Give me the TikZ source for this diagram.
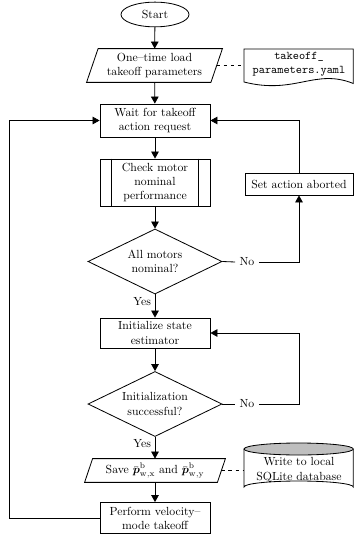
\documentclass[tikz,border=0pt]{standalone}
\usepackage{amsmath}
\usetikzlibrary{shapes.geometric,arrows.meta}

\begin{document}
\begin{tikzpicture}[x=0.85pt,y=-0.85pt,line width=0.7pt,
  arr/.style={-{Triangle[length=6pt,width=6.5pt]}},
  link/.style={dash pattern=on 3pt off 3pt},
  box/.style={draw,rectangle,minimum width=93.5pt,align=center,inner sep=1pt},
  plain/.style={rectangle,align=center,inner sep=1pt},
  decision/.style={draw,diamond,aspect=2,minimum width=113.9pt,minimum height=55.3pt,
    inner sep=0pt,align=center},
  lbl/.style={inner sep=1pt},
  nolbl/.style={inner xsep=3.5pt,inner ysep=1pt}]
\useasboundingbox (0,0) rectangle (354,536);

% main column
\node[draw,ellipse,minimum width=57.8pt,minimum height=21pt,inner sep=0pt] (start) at (155,14.5) {Start};
\node[plain,minimum width=105pt,minimum height=28pt] (load) at (154.5,65.5) {One--time load\\takeoff parameters};
\draw ([xshift=4.9pt]load.north west) -- ([xshift=4.9pt]load.north east)
  -- ([xshift=-4.9pt]load.south east) -- ([xshift=-4.9pt]load.south west) -- cycle;
\node[box,minimum height=28pt] (wait) at (155,120.5) {Wait for takeoff\\action request};
\node[box,minimum height=40pt] (check) at (155,182.5) {Check motor\\nominal\\performance};
\draw ([xshift=10.2pt]check.north west) -- ([xshift=10.2pt]check.south west);
\draw ([xshift=-10.2pt]check.north east) -- ([xshift=-10.2pt]check.south east);
\node[decision] (d1) at (155,261.5) {All motors\\nominal?};
\node[box,minimum height=25.5pt] (init) at (155,333) {Initialize state\\estimator};
\node[decision] (d2) at (155,404) {Initialization\\successful?};
\node[plain,minimum width=112.2pt,minimum height=19.5pt] (save) at (155,470.5)
  {Save $\bar{\boldsymbol{p}}^{\mathrm{b}}_{\mathrm{w,x}}$ and $\bar{\boldsymbol{p}}^{\mathrm{b}}_{\mathrm{w,y}}$};
\draw ([xshift=3.4pt]save.north west) -- ([xshift=3.4pt]save.north east)
  -- ([xshift=-3.4pt]save.south east) -- ([xshift=-3.4pt]save.south west) -- cycle;
\node[box,minimum height=26.4pt] (perform) at (155,518) {Perform velocity--\\mode takeoff};

% side column
\node[box,minimum width=91.8pt,minimum height=18.7pt] (abort) at (299,184) {Set action aborted};

% parameter file (document symbol)
\draw (244,49) -- (353.3,49) -- (353.3,83.5)
  .. controls (315,68) and (295,95) .. (244,82) -- cycle;
\node[plain] (yaml) at (299,64.5) {\texttt{takeoff\_}\\\texttt{parameters.yaml}};

% database (cylinder symbol)
\draw (244,449) -- (244,487) arc[start angle=180,end angle=360,x radius=54.65,y radius=6]
  -- (353.3,449);
\draw[fill=gray!50] (298.65,449) ellipse[x radius=54.65,y radius=6];
\node[plain] (db) at (299,470) {Write to local\\SQLite database};

% rail positions for the return lines
\coordinate (lrail) at (9.5,0);

% flow
\draw[arr] (start) -- (load);
\draw[arr] (load) -- (wait);
\draw[arr] (wait) -- (check);
\draw[arr] (check) -- (d1);
\draw[arr] (d1) -- (init);
\draw[arr] (init) -- (d2);
\draw[arr] (d2) -- (save);
\draw[arr] (save) -- (perform);

\node[lbl,anchor=north east] at ([xshift=-2pt,yshift=-1pt]d1.south) {Yes};
\node[lbl,anchor=north east] at ([xshift=-2pt,yshift=-1pt]d2.south) {Yes};

\node[nolbl] (no1) at (247,262) {No};
\draw (d1.east) -- (no1.west);
\draw[arr] (no1.east) -| (abort.south);
\draw[arr] (abort.north) |- (wait.east);

\node[nolbl] (no2) at (247,404) {No};
\draw (d2.east) -- (no2.west);
\draw[arr] (no2.east) -| (abort.south |- init.east) -- (init.east);

\draw[arr] (perform.west) -- (lrail |- perform.west) -- (lrail |- wait.west) -- (wait.west);

% data links
\draw[link] (load.east) -- (244,65.5);
\draw[link] (save.east) -- (244,470.5);
\end{tikzpicture}
\end{document}
